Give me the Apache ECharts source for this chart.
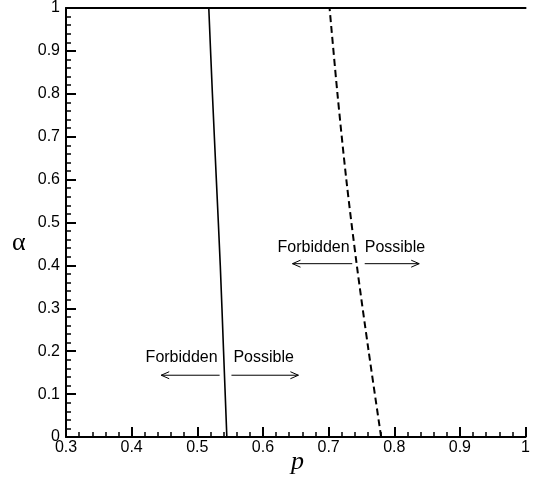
<!DOCTYPE html>
<html>
<head>
<meta charset="utf-8">
<script src="https://cdn.jsdelivr.net/npm/echarts@6/dist/echarts.min.js"></script>
<style>html,body{margin:0;padding:0;background:#fff;}#c{width:533px;height:481px;}</style>
</head>
<body>
<div id="c"></div>
<script>
// data
const alphaLevels = [0, 0.2, 0.4, 0.6, 0.8, 1];
const solidP  = [0.545, 0.540, 0.535, 0.529, 0.523, 0.5175];
const dashedP = [0.780, 0.761, 0.743, 0.727, 0.7135, 0.7015];
const xTicks = [0.3, 0.4, 0.5, 0.6, 0.7, 0.8, 0.9, 1];
const yTicks = [0, 0.1, 0.2, 0.3, 0.4, 0.5, 0.6, 0.7, 0.8, 0.9, 1];
const annoTexts = ['Forbidden', 'Possible', 'Forbidden', 'Possible'];
const annoP     = [0.531, 0.555, 0.732, 0.755];
const annoAlpha = [0.184, 0.184, 0.442, 0.442];
const arrowFrom = [[0.534, 0.144], [0.552, 0.144], [0.736, 0.404], [0.755, 0.404]];
const arrowTo   = [[0.445, 0.144], [0.654, 0.144], [0.645, 0.404], [0.838, 0.404]];

const FONT = 'Liberation Sans, Arial, Helvetica, sans-serif';
const fmt = v => String(Math.round(v * 10) / 10);

const chart = echarts.init(document.getElementById('c'), null, {renderer: 'canvas'});
const axisCommon = {
  type: 'value', interval: 0.1,
  axisLine: {show: true, lineStyle: {color: '#000', width: 2}},
  axisTick: {show: true, inside: true, length: 10, lineStyle: {color: '#000', width: 2}},
  minorTick: {show: true, splitNumber: 5, length: 5, lineStyle: {color: '#000', width: 1.5}},
  splitLine: {show: false},
  minorSplitLine: {show: false}
};
chart.setOption({
  animation: false,
  backgroundColor: '#fff',
  grid: {left: 66, width: 469, top: 7, height: 430, containLabel: false},
  xAxis: [
    Object.assign({}, axisCommon, {
      min: xTicks[0], max: xTicks[xTicks.length - 1], position: 'bottom',
      axisLabel: {color: '#000', fontSize: 16, fontFamily: FONT, margin: 3, formatter: fmt, showMinLabel: true, showMaxLabel: true}
    }),
    {
      type: 'value', min: xTicks[0], max: xTicks[xTicks.length - 1], position: 'top', interval: 0.1,
      axisLine: {show: true, lineStyle: {color: '#000', width: 2}},
      axisTick: {show: false}, axisLabel: {show: false}, splitLine: {show: false}
    }
  ],
  yAxis: Object.assign({}, axisCommon, {
    min: yTicks[0], max: yTicks[yTicks.length - 1],
    axisLabel: {color: '#000', fontSize: 16, fontFamily: FONT, margin: 6, formatter: fmt, showMinLabel: true, showMaxLabel: true}
  }),
  graphic: [
    {type: 'text', left: 12, top: 230, style: {text: 'α', fontSize: 26, fontFamily: 'Liberation Serif, Times New Roman, serif', fill: '#000'}},
    {type: 'text', left: 291, top: 449, style: {text: 'p', fontSize: 26, fontStyle: 'italic', fontFamily: 'Liberation Serif, Times New Roman, serif', fill: '#000'}}
  ],
  series: [
    {
      type: 'line', data: alphaLevels.map((a, i) => [solidP[i], a]), smooth: 0.3,
      showSymbol: false, symbol: 'none', lineStyle: {color: '#000', width: 1.6}, clip: false
    },
    {
      type: 'line', data: alphaLevels.map((a, i) => [dashedP[i], a]), smooth: 0.3,
      showSymbol: false, symbol: 'none', lineStyle: {color: '#000', width: 2, type: [7, 4]}, clip: false
    },
    {
      type: 'custom',
      data: arrowFrom.map((f, i) => [f[0], f[1], arrowTo[i][0], arrowTo[i][1]]),
      encode: {x: [0, 2], y: [1, 3]},
      renderItem: function (params, api) {
        const s = api.coord([api.value(0), api.value(1)]);
        const e = api.coord([api.value(2), api.value(3)]);
        const dx = e[0] - s[0], dy = e[1] - s[1];
        const L = Math.sqrt(dx * dx + dy * dy) || 1;
        const ux = dx / L, uy = dy / L, nx = -uy, ny = ux;
        const hl = 8, hw = 3.5;
        return {
          type: 'group',
          children: [
            {type: 'line', shape: {x1: s[0], y1: s[1], x2: e[0], y2: e[1]}, style: {stroke: '#000', lineWidth: 1}},
            {type: 'polyline', shape: {points: [
              [e[0] - hl * ux + hw * nx, e[1] - hl * uy + hw * ny],
              [e[0], e[1]],
              [e[0] - hl * ux - hw * nx, e[1] - hl * uy - hw * ny]
            ]}, style: {stroke: '#000', lineWidth: 1, fill: null}}
          ]
        };
      }
    },
    {
      type: 'custom',
      data: annoTexts.map((t, i) => [annoP[i], annoAlpha[i], i]),
      encode: {x: 0, y: 1},
      renderItem: function (params, api) {
        const i = api.value(2);
        const c = api.coord([api.value(0), api.value(1)]);
        const right = annoTexts[i] === 'Forbidden';
        return {
          type: 'text',
          style: {
            text: annoTexts[i], x: c[0], y: c[1],
            align: right ? 'right' : 'left', verticalAlign: 'middle',
            textAlign: right ? 'right' : 'left', textVerticalAlign: 'middle',
            fontSize: 16, fontFamily: FONT, fill: '#000'
          }
        };
      }
    }
  ]
});
</script>
</body>
</html>
